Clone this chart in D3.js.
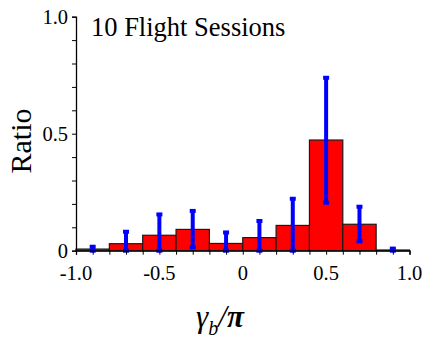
<!DOCTYPE html>
<html>
<head>
<meta charset="utf-8">
<script src="https://cdn.jsdelivr.net/npm/d3@7"></script>
<style>
  body { margin: 0; background: #fff; }
  text { font-family: "Liberation Serif", "Times New Roman", serif; fill: #000; }
</style>
</head>
<body>
<div id="chart"></div>
<script>
// bin edges and heights (ratio)
var binStarts = [-1.0, -0.8, -0.6, -0.4, -0.2, 0.0, 0.2, 0.4, 0.6, 0.8];
var binWidth = 0.2;
var ratios = [0.007, 0.030, 0.066, 0.091, 0.031, 0.056, 0.108, 0.473, 0.113, 0.003];

// error bars at bin centres
var errCenters = [-0.9, -0.7, -0.5, -0.3, -0.1, 0.1, 0.3, 0.5, 0.7, 0.9];
var errLow = [0.0, 0.0, 0.0, 0.014, 0.0, 0.0, 0.0, 0.205, 0.040, 0.0];
var errHigh = [0.017, 0.081, 0.155, 0.170, 0.078, 0.127, 0.222, 0.739, 0.188, 0.009];

var xTickLabels = [-1.0, -0.5, 0, 0.5, 1.0];
var yTickLabels = [0, 0.5, 1.0];

var svgWidth = 426, svgHeight = 338;
var margin = { top: 16.7, right: 16.5, bottom: 87.3, left: 76 };
var width = svgWidth - margin.left - margin.right;
var height = svgHeight - margin.top - margin.bottom;

var svg = d3.select("#chart").append("svg")
  .attr("width", svgWidth)
  .attr("height", svgHeight);

var chartGroup = svg.append("g")
  .attr("transform", `translate(${margin.left}, ${margin.top})`);

var x = d3.scaleLinear().domain([-1, 1]).range([0, width]);
var y = d3.scaleLinear().domain([0, 1]).range([height, 0]);

// histogram bars
chartGroup.selectAll("rect.bar")
  .data(binStarts)
  .enter()
  .append("rect")
  .attr("class", "bar")
  .attr("x", d => x(d))
  .attr("width", x(binWidth) - x(0))
  .attr("y", (d, i) => y(ratios[i]))
  .attr("height", (d, i) => y(0) - y(ratios[i]))
  .attr("fill", "#ff0000")
  .attr("stroke", "#1a1a1a")
  .attr("stroke-width", 1.2);

// error bars
var errGroup = chartGroup.append("g");
errCenters.forEach(function(c, i) {
  errGroup.append("line")
    .attr("x1", x(c)).attr("x2", x(c))
    .attr("y1", y(errLow[i])).attr("y2", y(errHigh[i]))
    .attr("stroke", "#0000ff")
    .attr("stroke-width", 4);
  [errLow[i], errHigh[i]].forEach(function(v) {
    errGroup.append("rect")
      .attr("x", x(c) - 3)
      .attr("y", y(v) - 2)
      .attr("width", 6)
      .attr("height", 4)
      .attr("fill", "#0000ff");
  });
});

// axes
var bottomAxis = d3.axisBottom(x)
  .tickValues(d3.range(-10, 11).map(d => d / 10))
  .tickSize(4)
  .tickFormat("");
var xAxis = chartGroup.append("g")
  .attr("transform", `translate(0, ${height})`)
  .call(bottomAxis);

var leftAxis = d3.axisLeft(y)
  .tickValues(d3.range(0, 11).map(d => d / 10))
  .tickSize(4)
  .tickFormat("");
var yAxis = chartGroup.append("g").call(leftAxis);

[xAxis, yAxis].forEach(function(a) {
  a.select(".domain").attr("stroke", "#000").attr("stroke-width", 1.3);
  a.selectAll(".tick line").attr("stroke", "#000").attr("stroke-width", 1);
});

// tick labels
chartGroup.selectAll("text.xlab")
  .data(xTickLabels)
  .enter()
  .append("text")
  .attr("x", d => x(d))
  .attr("y", height + 29)
  .attr("text-anchor", "middle")
  .style("font-size", "20.5px")
  .text(d => d === 0 ? "0" : d.toFixed(1));

chartGroup.selectAll("text.ylab")
  .data(yTickLabels)
  .enter()
  .append("text")
  .attr("x", -8)
  .attr("y", d => y(d) + 7)
  .attr("text-anchor", "end")
  .style("font-size", "20.5px")
  .text(d => d === 0 ? "0" : d.toFixed(1));

// title inside plot
svg.append("text")
  .attr("x", 91)
  .attr("y", 36)
  .style("font-size", "26.5px")
  .text("10 Flight Sessions");

// y axis title
svg.append("text")
  .attr("transform", "translate(31, 141) rotate(-90)")
  .attr("text-anchor", "middle")
  .style("font-size", "30px")
  .text("Ratio");

// x axis title
var xt = svg.append("text")
  .attr("x", 220)
  .attr("y", 327)
  .attr("text-anchor", "middle")
  .style("font-size", "31px");
xt.append("tspan").style("font-style", "italic").text("γ");
xt.append("tspan").style("font-style", "italic").style("font-size", "20px").attr("dy", 8).text("b");
xt.append("tspan").style("font-style", "italic").attr("dy", -8).text("/");
xt.append("tspan").style("font-style", "italic").style("font-weight", "bold").text("π");
</script>
</body>
</html>
